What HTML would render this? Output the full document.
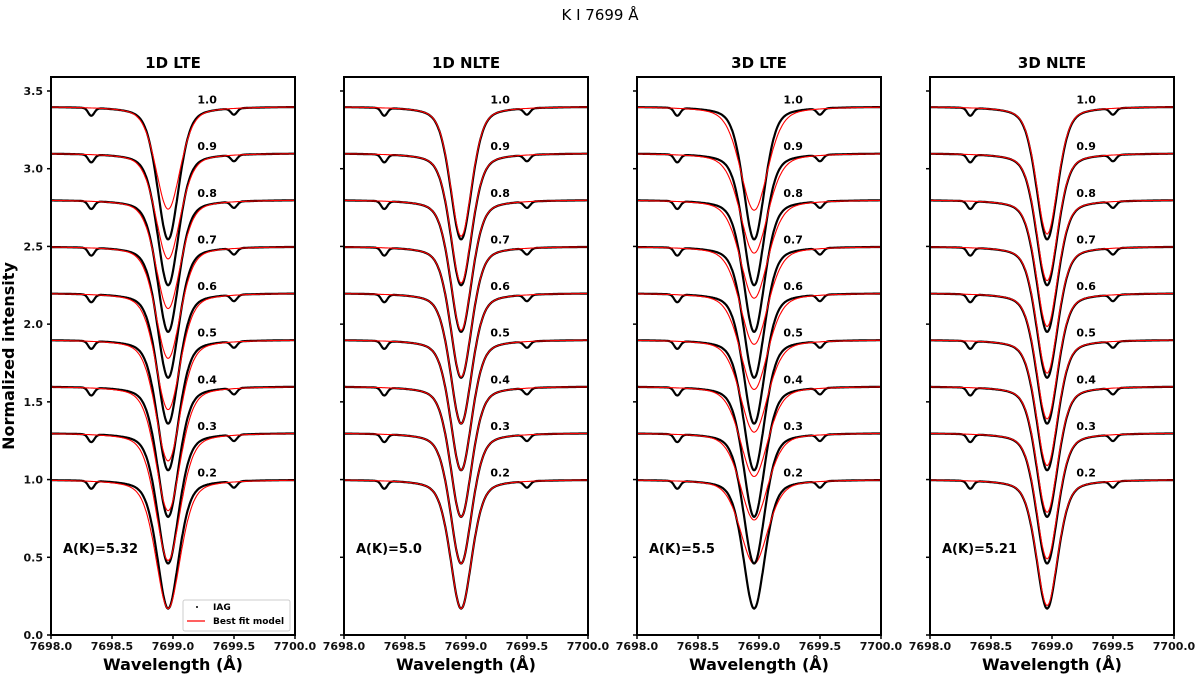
<!DOCTYPE html>
<html><head><meta charset="utf-8">
<style>
html,body{margin:0;padding:0;background:#fff;}
svg{display:block;font-family:"DejaVu Sans","Liberation Sans",sans-serif;}
.tk{font-size:11px;font-weight:bold;fill:#111;}
</style></head>
<body>
<svg id="chart" width="1200" height="680" viewBox="0 0 1200 680">
<text x="600" y="20" text-anchor="middle" font-size="15">K I 7699 Å</text>
<text transform="translate(14,356) rotate(-90)" text-anchor="middle" font-size="16" font-weight="bold">Normalized intensity</text>
</svg>
<script>
const panelTitles = ["1D LTE","1D NLTE","3D LTE","3D NLTE"];
const abundances = ["A(K)=5.32","A(K)=5.0","A(K)=5.5","A(K)=5.21"];
const muLabels = ["0.2","0.3","0.4","0.5","0.6","0.7","0.8","0.9","1.0"];
const offsets = [1.0,1.3,1.6,1.9,2.2,2.5,2.8,3.1,3.4];
const obsDepth = [0.83,0.84,0.84,0.84,0.84,0.845,0.85,0.85,0.855];
const modelDepth1DLTE = [0.83,0.82,0.80,0.78,0.75,0.72,0.70,0.68,0.66];
const modelDepth1DNLTE = [0.83,0.84,0.84,0.84,0.84,0.84,0.84,0.835,0.834];
const modelDepth3DLTE = [0.54,0.56,0.58,0.595,0.62,0.63,0.633,0.643,0.667];
const modelDepth3DNLTE = [0.81,0.81,0.81,0.81,0.81,0.815,0.815,0.82,0.82];
const modelWidth = [0.12,0.105,0.135,0.105];
const xTicks = [7698.0,7698.5,7699.0,7699.5,7700.0];
const yTicks = [0.0,0.5,1.0,1.5,2.0,2.5,3.0,3.5];
const lineCenter = 7698.96;
const blendCenters = [7698.33,7699.5];
const blendDepths = [0.05,0.04];

const modelDepths=[modelDepth1DLTE,modelDepth1DNLTE,modelDepth3DLTE,modelDepth3DNLTE];
const NS='http://www.w3.org/2000/svg';
const svg=document.getElementById('chart');
const panelLeft=[51,344,637,930], PW=244, TOP=77, BOT=635, YMAX=3.59;
function mk(tag,attrs,parent){const e=document.createElementNS(NS,tag);for(const k in attrs)e.setAttribute(k,attrs[k]);(parent||svg).appendChild(e);return e;}
function prof(x,d,w){const t=(x-lineCenter)/w;return d*(0.6*Math.exp(-0.693*t*t)+0.4/(1+t*t));}
for(let p=0;p<4;p++){
  const x0=panelLeft[p];
  const X=v=>x0+(v-7698)/2*PW;
  const Y=v=>BOT-(v/YMAX)*(BOT-TOP);
  const g=mk('g',{});
  
  
  const clip=mk('clipPath',{id:'c'+p},g);mk('rect',{x:x0,y:TOP,width:PW,height:BOT-TOP},clip);
  const cg=mk('g',{'clip-path':'url(#c'+p+')'},g);
  for(let k=0;k<offsets.length;k++){
    let ob='',md='';
    for(let i=0;i<=400;i++){
      const w=7698+2*i/400;
      let o=offsets[k]-prof(w,obsDepth[k],0.105);
      for(let b=0;b<blendCenters.length;b++){const t=(w-blendCenters[b])/0.025;o-=blendDepths[b]*Math.exp(-t*t/2);}
      const m=offsets[k]-prof(w,modelDepths[p][k],modelWidth[p]);
      ob+=(i?'L':'M')+X(w).toFixed(1)+','+Y(o).toFixed(1);
      md+=(i?'L':'M')+X(w).toFixed(1)+','+Y(m).toFixed(1);
    }
    const a=mk('path',{d:ob,fill:'none',stroke:'#000','stroke-width':2.2},cg);
    
    
    const b=mk('path',{d:md,fill:'none',stroke:'#f00','stroke-width':1.1},cg);
    
    
    const lt=mk('text',{x:X(7699.2),y:Y(offsets[k])-3,'font-size':11,'font-weight':'bold'},g);lt.textContent=muLabels[k];
    
    
  }
  mk('rect',{x:x0,y:TOP,width:PW,height:BOT-TOP,fill:'none',stroke:'#000','stroke-width':2},g);
  const tt=mk('text',{x:x0+PW/2,y:68,'text-anchor':'middle','font-size':15,'font-weight':'bold'},g);tt.textContent=panelTitles[p];
  
  
  const ab=mk('text',{x:x0+12,y:553,'font-size':13,'font-weight':'bold'},g);ab.textContent=abundances[p];
  
  
  for(const v of xTicks){
    mk('line',{x1:X(v),x2:X(v),y1:BOT,y2:BOT+4,stroke:'#000','stroke-width':1.5},g);
    const t=mk('text',{x:X(v),y:BOT+15,'text-anchor':'middle',class:'tk'},g);t.textContent=v.toFixed(1);
    
    
  }
  for(const v of yTicks){
    mk('line',{x1:x0-4,x2:x0,y1:Y(v),y2:Y(v),stroke:'#000','stroke-width':1.5},g);
    if(p===0){const t=mk('text',{x:x0-8,y:Y(v)+4,'text-anchor':'end',class:'tk'},g);t.textContent=v.toFixed(1);
      
      }
  }
  const xl=mk('text',{x:x0+PW/2,y:670,'text-anchor':'middle','font-size':16,'font-weight':'bold'},g);xl.textContent='Wavelength (Å)';
  
  
}
const lg=mk('g',{});


mk('rect',{x:183,y:600,width:107,height:31,rx:2,fill:'#fff',stroke:'#ccc'},lg);
mk('circle',{cx:197,cy:607,r:1},lg);
let t1=mk('text',{x:213,y:610,'font-size':9,'font-weight':'bold'},lg);t1.textContent='IAG';
mk('line',{x1:187,x2:205,y1:621,y2:621,stroke:'#f00','stroke-width':1.2},lg);
let t2=mk('text',{x:213,y:624,'font-size':9,'font-weight':'bold'},lg);t2.textContent='Best fit model';
</script>
</body></html>
